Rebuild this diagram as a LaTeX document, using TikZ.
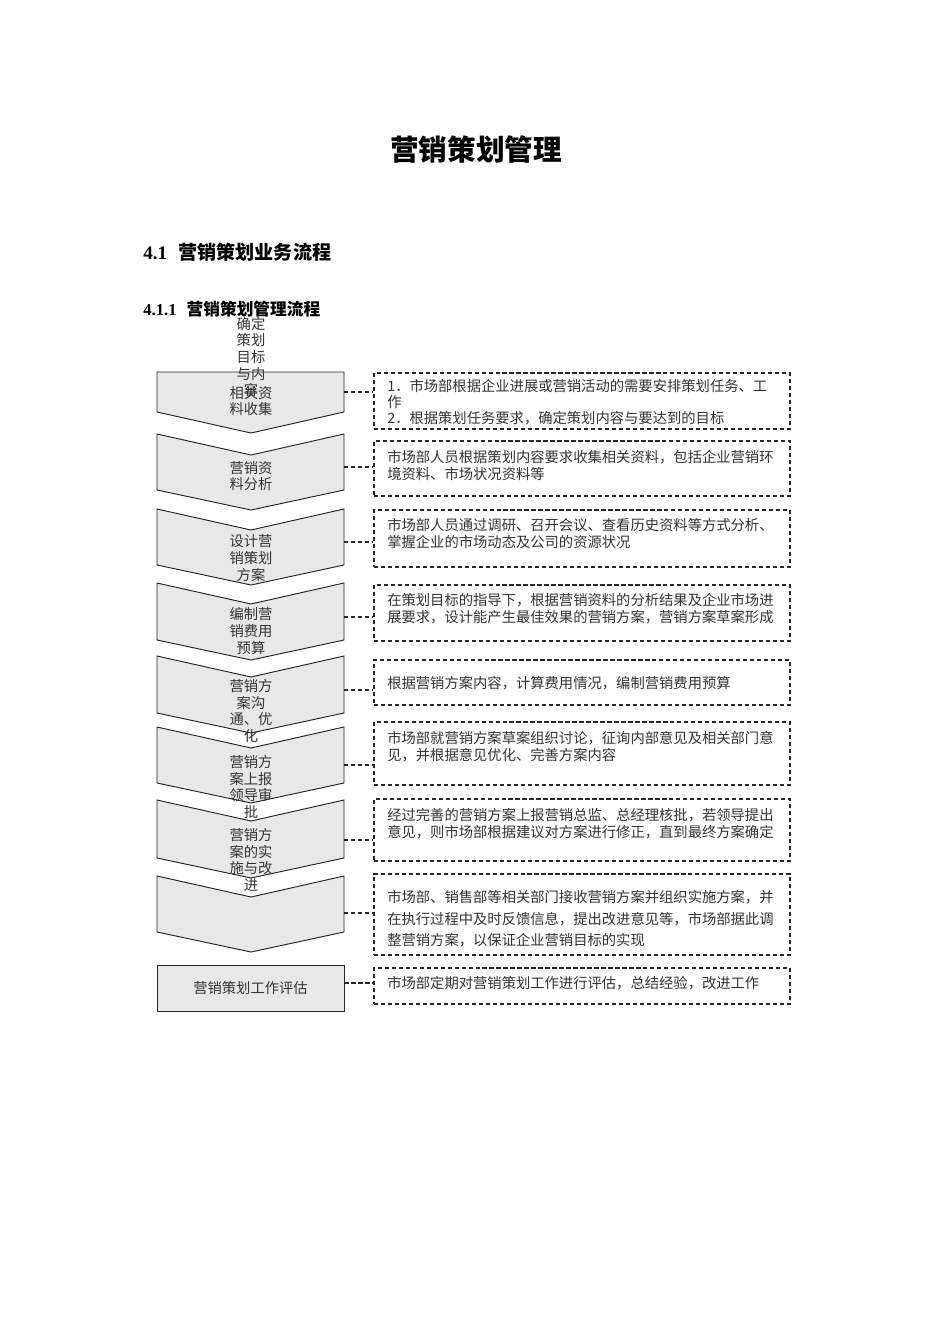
\documentclass[tikz,border=0pt]{standalone}
\usepackage{fontspec}
\setmainfont{Liberation Serif}
\newfontfamily\cjk{Noto Sans CJK SC}

\begin{document}
\begin{tikzpicture}[x=0.2211mm,y=-0.2211mm,
    chev/.style={draw=black!85,line width=0.6pt,fill=black!9},
    descbox/.style={draw=black!85,line width=0.75pt,dash pattern=on 2.6pt off 1.8pt,
        minimum width={416*0.2211mm},inner sep=0pt},
    link/.style={draw=black!85,line width=0.75pt,dash pattern=on 2.6pt off 1.8pt},
    steptext/.style={font=\cjk\fontsize{9pt}{10.5pt}\selectfont,text=black!80,
        align=center,inner sep=0pt},
    desctext/.style={font=\cjk\fontsize{9pt}{10.5pt}\selectfont,text=black!80,
        align=left,anchor=north west,inner sep=0pt}]
\useasboundingbox (0,0) rectangle (950,1344);

% headings
\node [font=\cjk\bfseries\fontsize{18pt}{20pt}\selectfont] (title) at (476,150) {营销策划管理};
\node [anchor=west,inner sep=0pt,font=\fontsize{12pt}{14pt}\selectfont] (sec) at (143,252)
    {\textbf{4.1}\hspace{0.6em}{\cjk\bfseries 营销策划业务流程}};
\node [anchor=west,inner sep=0pt,font=\fontsize{10.5pt}{12pt}\selectfont] (subsec) at (143,309)
    {\textbf{4.1.1}\hspace{0.6em}{\cjk\bfseries 营销策划管理流程}};

% chevrons
\draw [chev] (157,372) -- (344,372) -- (344,412) -- (251,433) -- (157,412) -- cycle;
\foreach \t/\b in {434/490,509/565,583/640,656/713,727/783,800/858,876/932}
    \draw [chev] (157,\t) -- (251,\t+21) -- (344,\t) -- (344,\b) -- (251,\b+20) -- (157,\b) -- cycle;
\node [chev,minimum width={187*0.2211mm},minimum height={46*0.2211mm},inner sep=0pt,
    font=\cjk\fontsize{9pt}{10.5pt}\selectfont,text=black!80] (eval) at (250.5,988.5) {营销策划工作评估};

% step labels
\node [steptext] (s1a) at (251,357) {确定\\策划\\目标\\与内\\容};
\node [steptext] (s1b) at (251,401) {相关资\\料收集};
\node [steptext] (s2) at (251,476) {营销资\\料分析};
\node [steptext] (s3) at (251,558) {设计营\\销策划\\方案};
\node [steptext] (s4) at (251,631) {编制营\\销费用\\预算};
\node [steptext] (s5) at (251,711) {营销方\\案沟\\通、优\\化};
\node [steptext] (s6) at (251,787) {营销方\\案上报\\领导审\\批};
\node [steptext] (s7) at (251,860) {营销方\\案的实\\施与改\\进};

% description boxes
\node [descbox,minimum height={56*0.2211mm}] (b1) at (582,401) {};
\node [descbox,minimum height={55*0.2211mm}] (b2) at (582,468.5) {};
\node [descbox,minimum height={57*0.2211mm}] (b3) at (582,538.5) {};
\node [descbox,minimum height={56*0.2211mm}] (b4) at (582,613) {};
\node [descbox,minimum height={45*0.2211mm}] (b5) at (582,682.5) {};
\node [descbox,minimum height={63*0.2211mm}] (b6) at (582,753.5) {};
\node [descbox,minimum height={62*0.2211mm}] (b7) at (582,830) {};
\node [descbox,minimum height={81*0.2211mm}] (b8) at (582,914.5) {};
\node [descbox,minimum height={36*0.2211mm}] (b9) at (582,986) {};

\node [desctext,font=\cjk\fontsize{9pt}{10pt}\selectfont] (d1) at (387,379)
    {1．市场部根据企业进展或营销活动的需要安排策划任务、工\\作\\2．根据策划任务要求，确定策划内容与要达到的目标};
\node [desctext] (d2) at (387,450)
    {市场部人员根据策划内容要求收集相关资料，包括企业营销环\\境资料、市场状况资料等};
\node [desctext] (d3) at (387,518)
    {市场部人员通过调研、召开会议、查看历史资料等方式分析、\\掌握企业的市场动态及公司的资源状况};
\node [desctext] (d4) at (387,593)
    {在策划目标的指导下，根据营销资料的分析结果及企业市场进\\展要求，设计能产生最佳效果的营销方案，营销方案草案形成};
\node [desctext] (d5) at (387,676)
    {根据营销方案内容，计算费用情况，编制营销费用预算};
\node [desctext] (d6) at (387,731)
    {市场部就营销方案草案组织讨论，征询内部意见及相关部门意\\见，并根据意见优化、完善方案内容};
\node [desctext] (d7) at (387,808)
    {经过完善的营销方案上报营销总监、总经理核批，若领导提出\\意见，则市场部根据建议对方案进行修正，直到最终方案确定};
\node [desctext,font=\cjk\fontsize{9pt}{13.6pt}\selectfont] (d8) at (387,890)
    {市场部、销售部等相关部门接收营销方案并组织实施方案，并\\在执行过程中及时反馈信息，提出改进意见等，市场部据此调\\整营销方案，以保证企业营销目标的实现};
\node [desctext] (d9) at (387,976)
    {市场部定期对营销策划工作进行评估，总结经验，改进工作};

% dashed links
\foreach \n/\y in {1/392,2/467,3/542,4/617,5/690,6/765,7/840,8/913}
    \coordinate (k\n) at (344,\y);
\path (eval.east) +(0,-5.5) coordinate (k9);
\foreach \n in {1,...,9}
    \draw [link] (k\n) -- (k\n -| b\n.west);
\end{tikzpicture}
\end{document}
